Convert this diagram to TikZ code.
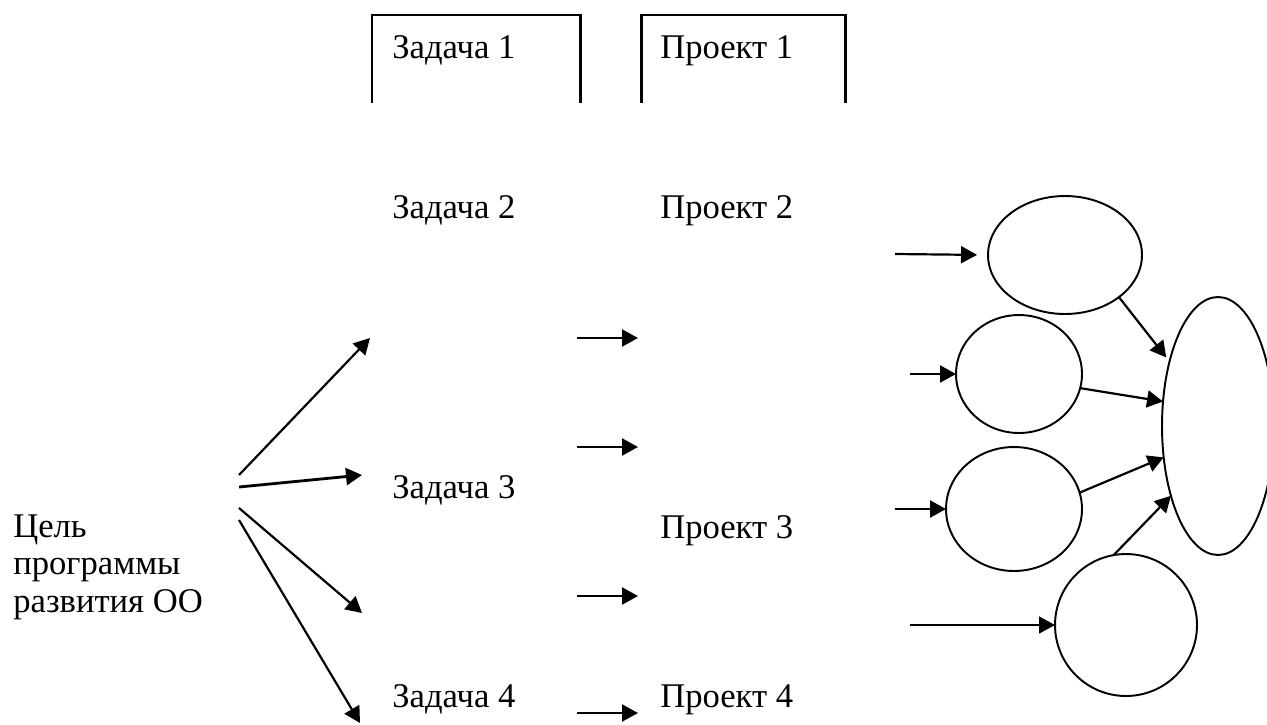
\documentclass[tikz,border=0pt]{standalone}
\usepackage{fontspec}
\setmainfont{Liberation Serif}
\usetikzlibrary{arrows.meta,shapes.geometric}
\begin{document}
\begin{tikzpicture}[x=0.02cm,y=-0.02cm,
  lbl/.style={anchor=base west,inner sep=0pt,font=\fontsize{19.7}{21.5}\selectfont},
  conn/.style={line width=1.25pt,-{Triangle[length=0.32cm,width=0.34cm]}},
  thinconn/.style={line width=0.9pt,-{Triangle[length=0.32cm,width=0.34cm]}},
  oval/.style={draw,ellipse,line width=1.1pt,inner sep=0pt,outer sep=0pt},
  boxline/.style={line width=1.7pt}]
\useasboundingbox (0,0) rectangle (1267,724);

% open boxes
\draw[boxline] (372,103) -- (372,15) -- (580,15) -- (580,103);
\draw[boxline] (641,103) -- (641,15) -- (845,15) -- (845,103);

% labels
\node[lbl] (z1) at (392,58) {Задача 1};
\node[lbl] (p1) at (660,58) {Проект 1};
\node[lbl] (z2) at (392,218) {Задача 2};
\node[lbl] (p2) at (660,218) {Проект 2};
\node[lbl] (z3) at (392,498) {Задача 3};
\node[lbl] (p3) at (660,538) {Проект 3};
\node[lbl] (z4) at (392,707) {Задача 4};
\node[lbl] (p4) at (660,707) {Проект 4};
\node[lbl,anchor=north west,align=left] (goal) at (13,514) {Цель\\программы\\развития ОО};

% fan of arrows from the goal
\coordinate (s1) at (239,475); \coordinate (t1) at (370,338);
\coordinate (s2) at (239,487); \coordinate (t2) at (362,475);
\coordinate (s3) at (239,508); \coordinate (t3) at (362,613);
\coordinate (s4) at (239,520); \coordinate (t4) at (360,723);
\draw[conn] (s1) -- (t1);
\draw[conn,line width=1.6pt] (s2) -- (t2);
\draw[conn] (s3) -- (t3);
\draw[conn] (s4) -- (t4);

% short arrows
\foreach \n/\y in {a/338,b/447,c/596,d/713}{
  \coordinate (m\n1) at (577,\y); \coordinate (m\n2) at (638,\y);
  \draw[conn] (m\n1) -- (m\n2);
}

% ellipses
\node[oval,minimum width=3.08cm,minimum height=2.36cm] (e1) at (1065,255) {};
\node[oval,minimum width=2.52cm,minimum height=2.36cm] (e2) at (1019,374) {};
\node[oval,minimum width=2.72cm,minimum height=2.48cm] (e3) at (1014,509) {};
\node[oval,minimum width=2.84cm,minimum height=2.84cm] (e4) at (1126,625) {};
\node[oval,minimum width=2.24cm,minimum height=5.16cm] (big) at (1218,426) {};

% inputs
\coordinate (i1) at (895,254);
\coordinate (i2) at (910,374);
\coordinate (i3) at (895,509);
\coordinate (i4) at (910,625);
\draw[conn,shorten >=0.22cm] (i1) -- (e1.west);
\draw[conn] (i2) -- (e2.west);
\draw[conn] (i3) -- (e3.west);
\draw[thinconn] (i4) -- (e4.west);

% into the big ellipse
\draw[conn,shorten >=3pt] (e1.-38) -- (big.127);
\draw[conn] (e2.-13) -- (big.156);
\draw[conn] (e3.14) -- (big.210);
\draw[conn] (e4.100) -- (big.236);
\end{tikzpicture}
\end{document}
